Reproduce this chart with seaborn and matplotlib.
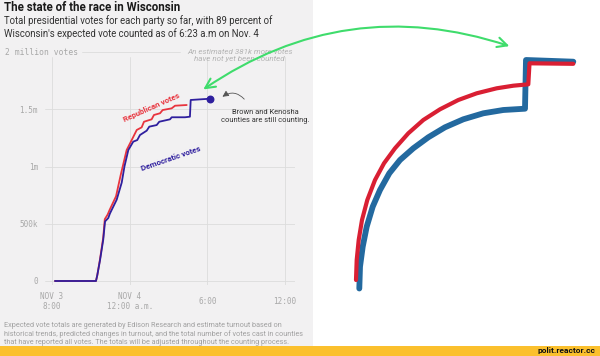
import matplotlib
matplotlib.use("Agg")
import matplotlib.pyplot as plt
import seaborn as sns
import pandas as pd
from matplotlib.patches import Rectangle

# ---------------- data (left chart) ----------------
# hours since Nov 3, 6:00 p.m.; votes in millions
rep_hours = [0.23, 3.40, 3.50, 3.71, 3.96, 4.08, 4.30, 4.45, 4.70, 4.95, 5.31, 5.77, 6.16,
             6.55, 6.93, 7.11, 7.70, 7.88, 8.35, 8.55, 9.25, 9.51, 10.41]
rep_votes = [0, 0, 0.05, 0.19, 0.38, 0.54, 0.58, 0.62, 0.68, 0.74, 0.926, 1.144, 1.231,
             1.319, 1.342, 1.391, 1.412, 1.45, 1.465, 1.493, 1.508, 1.531, 1.537]
dem_hours = [0.23, 3.40, 3.50, 3.71, 3.96, 4.10, 4.35, 4.48, 4.74, 5.00, 5.39, 5.60, 5.90,
             6.28, 6.59, 6.80, 7.32, 7.52, 8.09, 8.29, 9.12, 9.25, 10.28, 10.66, 10.72, 12.21]
dem_votes = [0, 0, 0.05, 0.18, 0.36, 0.52, 0.55, 0.59, 0.65, 0.71, 0.86, 1.0, 1.144,
             1.217, 1.231, 1.275, 1.313, 1.348, 1.362, 1.391, 1.412, 1.43, 1.43, 1.435, 1.581, 1.592]

x_ticks = [0, 6, 12, 18]
x_tick_labels = ["NOV 3\n8:00", "NOV 4\n12:00 a.m.", "6:00", "12:00"]
y_ticks = [0, 0.5, 1.0, 1.5]
y_tick_labels = ["0", "500k", "1m", "1.5m"]

# ---------------- data (hand-drawn sketch, image units) ----------------
sketch_blue_x = [359.3, 360, 362.7, 366.7, 372.7, 380, 389.3, 400, 413.3, 428.3, 445, 463.3,
                 483.3, 503.3, 525, 526, 573.3]
sketch_blue_y = [288.5, 266.7, 246.7, 226.7, 206.7, 190, 173.3, 160, 148.3, 137.3, 127.3, 119.3,
                 113.3, 110, 108.7, 60, 61.7]
sketch_red_x = [356, 356.7, 358.7, 362, 367.3, 375, 384, 395, 408.3, 423.3, 440, 458.3,
                476.7, 496.7, 513.3, 528.3, 529.5, 573.3]
sketch_red_y = [280, 260, 240, 220, 200, 180, 163.3, 148.3, 133.3, 120, 109.3, 100,
                93.3, 88.3, 85.7, 84.3, 63.3, 63.8]

sns.set_theme(style="white")
plt.rcParams["font.family"] = ["Roboto", "DejaVu Sans"]

W, H = 600, 356
fig = plt.figure(figsize=(6, 3.56), dpi=100)
fig.patch.set_facecolor("white")

# panel backgrounds (behind everything)
fig.patches.append(Rectangle((0, 10 / H), 313 / W, 1 - 10 / H, transform=fig.transFigure,
                             facecolor="#f2f1f2", edgecolor="none", zorder=-5))

# ---------------- chart axes ----------------
px_left, px_right, px_top, px_bottom = 45, 295, 48, 285
ax = fig.add_axes([px_left / W, 1 - px_bottom / H, (px_right - px_left) / W,
                   (px_bottom - px_top) / H])
ax.set_facecolor("none")
ax.set_xlim(-0.54, 18.78)
ax.set_ylim(-0.035, 2.035)
for s in ax.spines.values():
    s.set_visible(False)

grid_c = "#dcdcdc"
for yv in y_ticks:
    ax.axhline(yv, color=grid_c, lw=0.6, zorder=1)
ax.axhline(2.0, xmin=0.148, xmax=0.54, color=grid_c, lw=0.6, zorder=1)
for xv in x_ticks:
    ax.axvline(xv, ymin=0, ymax=0.96, color=grid_c, lw=0.6, zorder=1)

df_rep = pd.DataFrame({"h": rep_hours, "v": rep_votes})
df_dem = pd.DataFrame({"h": dem_hours, "v": dem_votes})
rep_c = "#e8343e"
dem_c = "#2f1f9e"
sns.lineplot(data=df_rep, x="h", y="v", ax=ax, color=rep_c, lw=1.3, sort=False,
             estimator=None, zorder=3)
sns.lineplot(data=df_dem, x="h", y="v", ax=ax, color=dem_c, lw=1.3, sort=False,
             estimator=None, zorder=4)
ax.scatter([dem_hours[-1]], [dem_votes[-1]], s=22, color=dem_c, zorder=5)

mono = "DejaVu Sans Mono"
tick_c = "#a8a8a8"
ax.set_xticks(x_ticks)
ax.set_xticklabels(x_tick_labels, family=mono, fontsize=5.5, color=tick_c)
ax.set_yticks(y_ticks)
ax.set_yticklabels(y_tick_labels, family=mono, fontsize=5.5, color=tick_c)
ax.tick_params(axis="x", length=0, pad=12)
ax.tick_params(axis="y", length=0, pad=5)
for lab in ax.get_xticklabels():
    lab.set_verticalalignment("center")
    lab.set_multialignment("center")
ax.set_xlabel("")
ax.set_ylabel("")

ax.text(-3.63, 2.0, "2 million votes", family=mono, fontsize=5.8, color=tick_c,
        ha="left", va="center", clip_on=False)
ax.text(14.5, 1.97, "An estimated 381k more votes\nhave not yet been counted",
        fontsize=5.8, style="italic", color="#b4b4b4", ha="center", va="center",
        linespacing=1.05)
ax.text(7.65, 1.52, "Republican votes", fontsize=5.8, fontweight="bold", color=rep_c,
        rotation=24, ha="center", va="center", rotation_mode="anchor")
ax.text(9.15, 1.07, "Democratic votes", fontsize=5.8, fontweight="bold", color=dem_c,
        rotation=19, ha="center", va="center", rotation_mode="anchor")
ax.text(16.5, 1.435, "Brown and Kenosha\ncounties are still counting.", fontsize=5.4,
        color="#333333", ha="center", va="center", linespacing=1.15)
ax.annotate("", xy=(13.0, 1.595), xytext=(15.0, 1.57),
            arrowprops=dict(arrowstyle="-|>,head_length=0.3,head_width=0.15",
                            color="#555555", lw=0.6,
                            connectionstyle="arc3,rad=0.5"))

# ---------------- titles / notes ----------------
fig.text(4 / W, 1 - 7.5 / H, "The state of the race in Wisconsin", fontsize=8.3,
         fontweight="bold", color="#1a1a1a", ha="left", va="center")
fig.text(4 / W, 1 - 27 / H,
         "Total presidential votes for each party so far, with 89 percent of\n"
         "Wisconsin's expected vote counted as of 6:23 a.m on Nov. 4",
         fontsize=6.9, color="#333333", ha="left", va="center", linespacing=1.2)
fig.text(4 / W, 1 - 334 / H,
         "Expected vote totals are generated by Edison Research and estimate turnout based on\n"
         "historical trends, predicted changes in turnout, and the total number of votes cast in counties\n"
         "that have reported all votes. The totals will be adjusted throughout the counting process.",
         fontsize=5.2, color="#a0a0a0", ha="left", va="center", linespacing=1.2, zorder=1)
fig.patches.append(Rectangle((0, 0), 1, 10 / H, transform=fig.transFigure,
                             facecolor="#fbc02d", edgecolor="none", zorder=2))
fig.text(595 / W, 5 / H, "polit.reactor.cc", fontsize=6, fontweight="bold", color="#111111",
         ha="right", va="center", zorder=3)

# ---------------- sketch overlay ----------------
sk = fig.add_axes([0, 0, 1, 1])
sk.set_xlim(0, W)
sk.set_ylim(H, 0)
sk.axis("off")
sk.set_facecolor("none")
df_sb = pd.DataFrame({"x": sketch_blue_x, "y": sketch_blue_y})
df_sr = pd.DataFrame({"x": sketch_red_x, "y": sketch_red_y})
sns.lineplot(data=df_sb, x="x", y="y", ax=sk, color="#23699f", lw=4.2, sort=False,
             estimator=None, solid_capstyle="round", solid_joinstyle="round")
sns.lineplot(data=df_sr, x="x", y="y", ax=sk, color="#d91f33", lw=3.0, sort=False,
             estimator=None, solid_capstyle="round", solid_joinstyle="round")
sk.set_xlim(0, W)
sk.set_ylim(H, 0)
sk.annotate("", xy=(512, 47), xytext=(201, 91),
            arrowprops=dict(arrowstyle="<->,head_length=0.7,head_width=0.35",
                            color="#3fdc6c", lw=1.5, mutation_scale=10,
                            connectionstyle="arc3,rad=-0.25"))

fig.savefig("out.png", dpi=100)
